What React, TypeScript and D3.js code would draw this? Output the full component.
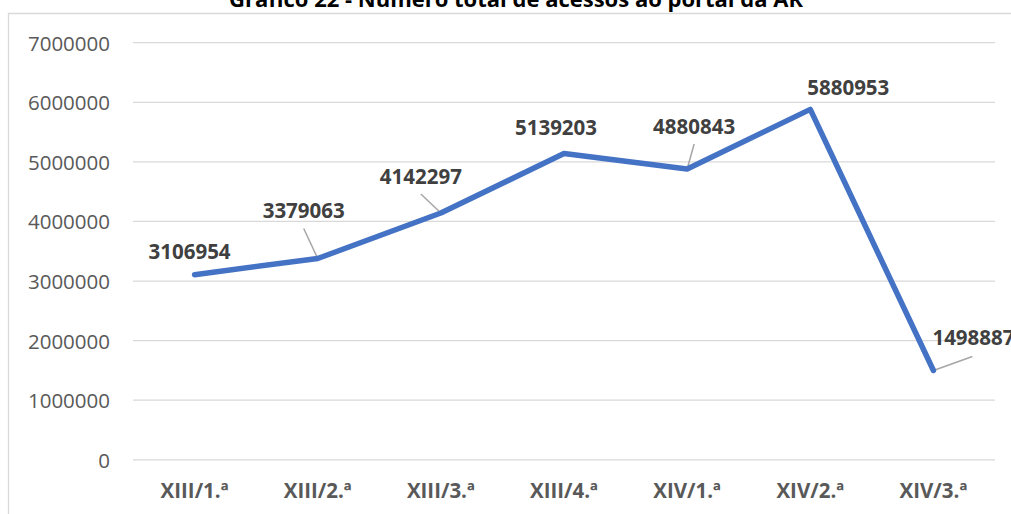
import React from "react";
import * as d3 from "d3";

const categories = ["XIII/1.ª", "XIII/2.ª", "XIII/3.ª", "XIII/4.ª", "XIV/1.ª", "XIV/2.ª", "XIV/3.ª"];
const accessValues = [3106954, 3379063, 4142297, 5139203, 4880843, 5880953, 1498887];
const yTicks = [0, 1000000, 2000000, 3000000, 4000000, 5000000, 6000000, 7000000];
const title = "Gráfico 22 - Número total de acessos ao portal da AR";

// label placement relative to the point: [dx, dy, anchor, leader]
const labelOffsets: [number, number, string, boolean][] = [
  [-5, -16, "middle", false],
  [-14, -40, "middle", true],
  [-20, -29, "middle", true],
  [-8, -19, "middle", false],
  [7, -35, "middle", true],
  [38, -14, "middle", false],
  [-1, -25, "start", true],
];

const W = 1011;
const H = 514;
const FONT = "'Open Sans', 'Liberation Sans', sans-serif";

export default function App() {
  const x = d3.scaleBand<string>().domain(categories).range([133, 995]);
  const y = d3.scaleLinear().domain([0, 7000000]).range([459.8, 42.7]);
  const px = (i: number) => (x(categories[i]) as number) + x.bandwidth() / 2;
  const line = d3
    .line<number>()
    .x((_, i) => px(i))
    .y((d) => y(d));

  return (
    <svg
      width={W}
      height={H}
      style={{ position: "absolute", left: 0, top: 0, display: "block", background: "#fff" }}
    >
      <rect x={0} y={0} width={W} height={H} fill="#fff" />
      {/* chart area border */}
      <line x1={8.5} x2={8.5} y1={13} y2={H} stroke="#D9D9D9" strokeWidth={1.3} />
      <line x1={8} x2={W} y1={13.5} y2={13.5} stroke="#D9D9D9" strokeWidth={1.3} />
      {/* title (clipped at top) */}
      <text
        x={516}
        y={7}
        textAnchor="middle"
        fontFamily={FONT}
        fontWeight="bold"
        fontSize={22}
        fill="#000"
      >
        {title}
      </text>
      {/* gridlines and y ticks */}
      {yTicks.map((t) => (
        <g key={t}>
          <line x1={133} x2={995} y1={y(t)} y2={y(t)} stroke="#D9D9D9" strokeWidth={1.3} />
          <text
            x={110}
            y={y(t) + 8}
            textAnchor="end"
            fontFamily={FONT}
            fontSize={20.5}
            fill="#595959"
          >
            {t}
          </text>
        </g>
      ))}
      {/* x labels */}
      {categories.map((c, i) => (
        <text
          key={c}
          x={px(i)}
          y={498}
          textAnchor="middle"
          fontFamily={FONT}
          fontWeight="bold"
          fontSize={20.5}
          fill="#595959"
        >
          {c}
        </text>
      ))}
      {/* leader lines */}
      {accessValues.map((v, i) => {
        const [dx, dy, anchor, leader] = labelOffsets[i];
        if (!leader) return null;
        const lx = px(i) + dx;
        const ly = y(v) + dy;
        let x1 = lx;
        let y1 = ly + 10;
        if (anchor === "start") {
          x1 = lx + 40;
          y1 = ly + 11;
        }
        return (
          <line
            key={"l" + i}
            x1={x1}
            y1={y1}
            x2={px(i)}
            y2={y(v)}
            stroke="#A6A6A6"
            strokeWidth={1.5}
          />
        );
      })}
      {/* series line */}
      <path
        d={line(accessValues) || ""}
        fill="none"
        stroke="#4472C4"
        strokeWidth={5.5}
        strokeLinejoin="round"
        strokeLinecap="round"
      />
      {/* data labels */}
      {accessValues.map((v, i) => {
        const [dx, dy, anchor] = labelOffsets[i];
        return (
          <text
            key={"d" + i}
            x={px(i) + dx}
            y={y(v) + dy}
            textAnchor={anchor as any}
            fontFamily={FONT}
            fontWeight="bold"
            fontSize={20.5}
            fill="#404040"
          >
            {v}
          </text>
        );
      })}
    </svg>
  );
}
